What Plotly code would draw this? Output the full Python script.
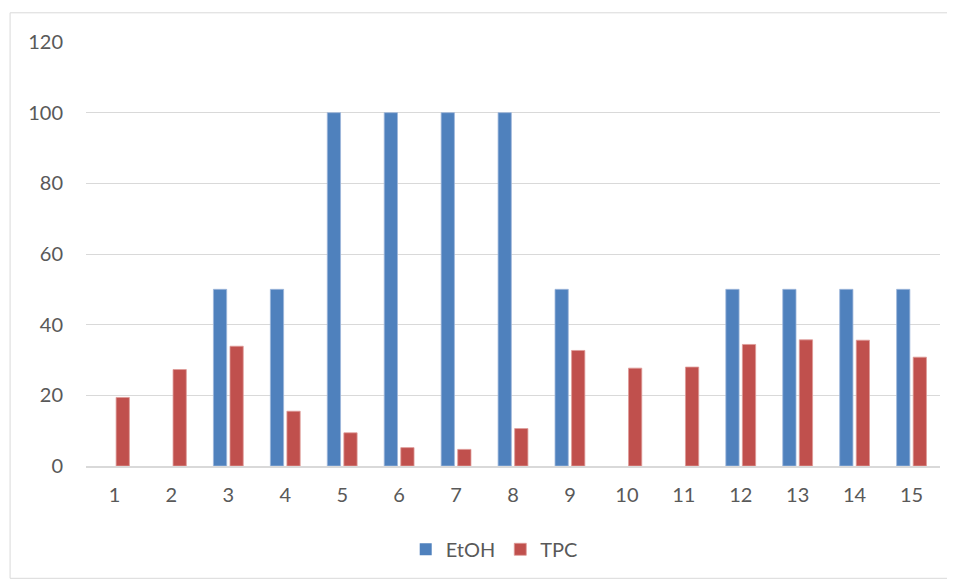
import plotly.graph_objects as go

categories = [str(i) for i in range(1, 16)]
etoh = [0, 0, 50, 50, 100, 100, 100, 100, 50, 0, 0, 50, 50, 50, 50]
tpc = [19.4, 27.3, 33.9, 15.5, 9.4, 5.2, 4.7, 10.6, 32.7, 27.7, 28.0, 34.4, 35.7, 35.6, 30.8]
y_ticks = [0, 20, 40, 60, 80, 100, 120]

FONT = "Lato, 'Open Sans', sans-serif"
OFF = 8  # page body margin
fig = go.Figure()
fig.add_trace(go.Bar(x=categories, y=etoh, name="EtOH",
                     marker=dict(color="#4F81BD",
                                 line=dict(color="#9DB6DA", width=[0.8 if v else 0 for v in etoh]))))
fig.add_trace(go.Bar(x=categories, y=tpc, name="TPC",
                     marker=dict(color="#C0504D",
                                 line=dict(color="#DE9A98", width=[0.8 if v else 0 for v in tpc]))))

FW, FH = 955 - OFF, 581 - OFF
L, T = 85.5 - OFF, 41.7 - OFF
H = 424.0
W = 855.0
fig.update_layout(
    width=FW, height=FH,
    margin=dict(l=L, r=FW - L - W, t=T, b=FH - T - H, pad=0),
    paper_bgcolor="white", plot_bgcolor="white",
    barmode="group", bargap=0.418, bargroupgap=0.2,
    font=dict(family=FONT, size=20, color="#595959"),
    showlegend=True,
    legend=dict(orientation="h", x=0.478, xanchor="center", y=(465.7 - 549) / H,
                yanchor="middle", font=dict(size=20, color="#595959"),
                itemwidth=30, traceorder="normal"),
    xaxis=dict(type="category", showgrid=False, showline=True, linecolor="#D9D9D9",
               linewidth=1.5, ticks="", ticklabelstandoff=10,
               tickfont=dict(size=20, color="#595959")),
    yaxis=dict(range=[0, 120], tickvals=y_ticks, showgrid=True, gridcolor="#D9D9D9",
               gridwidth=1, zeroline=False, showline=False, ticks="",
               ticklabelstandoff=22, tickfont=dict(size=20, color="#595959")),
    shapes=[dict(type="rect", xref="paper", yref="paper",
                 x0=(9.5 - 85.5) / W, x1=(950 - 85.5) / W,
                 y0=(465.7 - 578) / H, y1=(465.7 - 12.5) / H,
                 line=dict(color="#D9D9D9", width=1), fillcolor="rgba(0,0,0,0)", layer="below")],
)
fig.write_html("out.html")
